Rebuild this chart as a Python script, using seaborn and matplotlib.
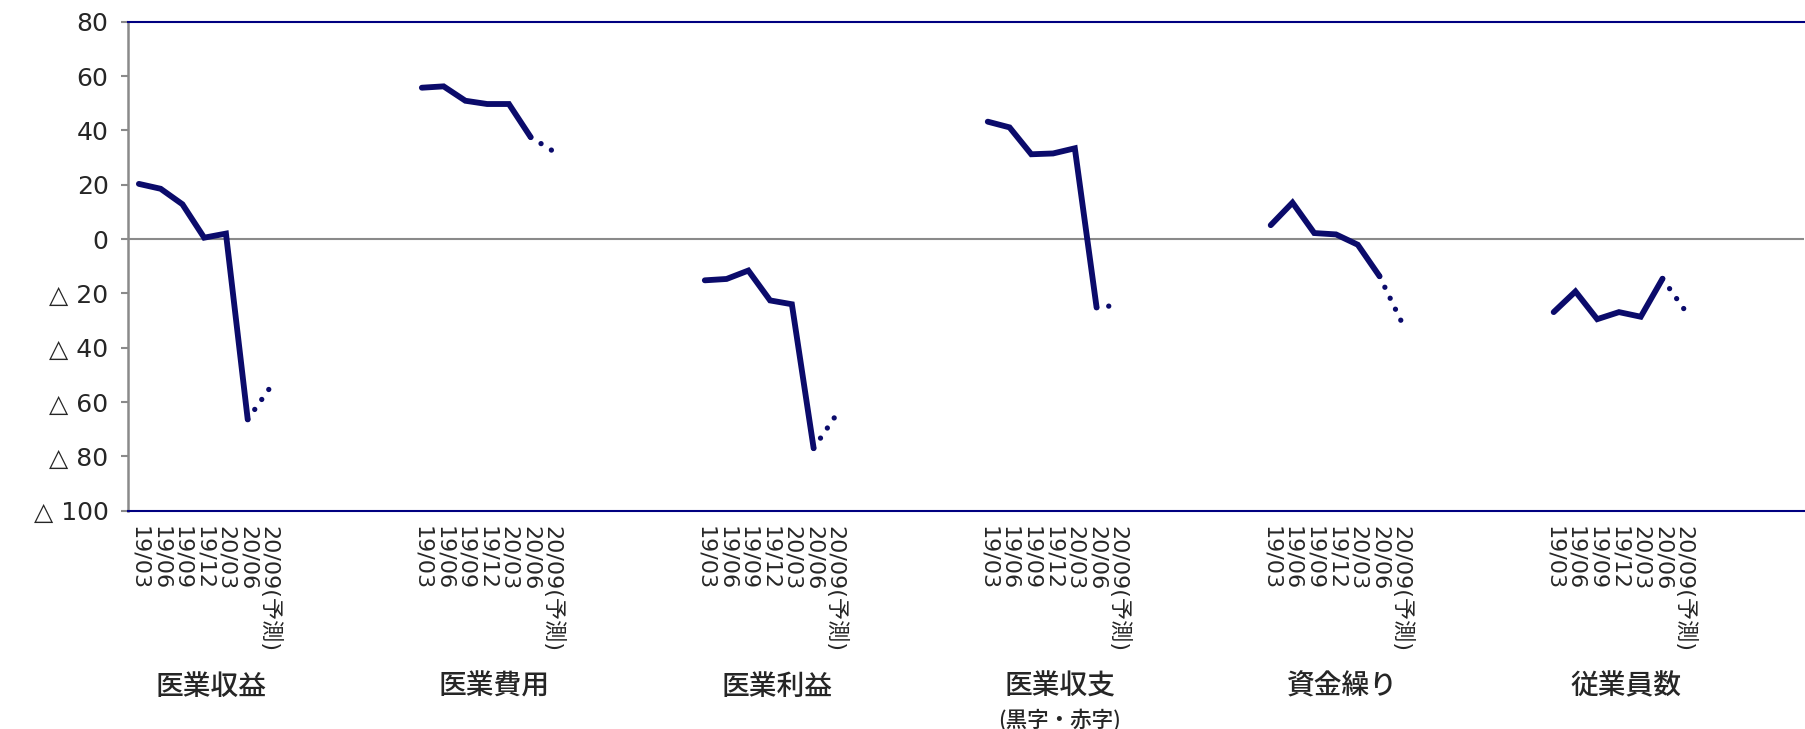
import pandas as pd
import numpy as np
import matplotlib.pyplot as plt
import seaborn as sns

# data (DI values per item, quarterly)
items = ['医業収益', '医業費用', '医業利益', '医業収支', '資金繰り', '従業員数']
item_notes = ['', '', '', '(黒字・赤字)', '', '']
periods = ['19/03', '19/06', '19/09', '19/12', '20/03', '20/06', '20/09(予測)']

revenue = [20.3, 18.5, 12.8, 0.5, 2.0, -66.4, -55.0]
expense = [55.7, 56.2, 50.9, 49.7, 49.7, 37.5, 32.5]
profit = [-15.2, -14.7, -11.6, -22.6, -24.0, -77.0, -65.2]
balance = [43.2, 41.1, 31.2, 31.5, 33.4, -25.2, -24.3]
cashflow = [5.1, 13.4, 2.2, 1.7, -2.1, -13.7, -30.3]
staff = [-26.9, -19.3, -29.5, -26.9, -28.6, -14.6, -25.9]

yticks = [80, 60, 40, 20, 0, -20, -40, -60, -80, -100]

NAVY = '#0b0b6b'
GAP = 13  # slots per group (7 periods + 6 blanks)
NSLOTS = 77


# build a long table: one row per item/period
def build_table():
    series = [revenue, expense, profit, balance, cashflow, staff]
    rows = []
    for g, (name, vals) in enumerate(zip(items, series)):
        for i, (p, v) in enumerate(zip(periods, vals)):
            rows.append({'item': name, 'period': p, 'idx': i,
                         'pos': g * GAP + i, 'value': v})
    return pd.DataFrame(rows)


def draw(df):
    sns.set_style('white')
    plt.rcParams['font.family'] = ['DejaVu Sans', 'Noto Sans CJK JP']

    fig = plt.figure(figsize=(18.06, 7.29), dpi=100)
    ax = fig.add_axes([128 / 1806, (729 - 510.7) / 729, 1676 / 1806, 489 / 729])

    ax.axhline(0, color='#8a8a8a', lw=1.5, zorder=1)

    # actual values: solid line up to 20/06
    solid = df[df['idx'] <= 5]
    sns.lineplot(data=solid, x='pos', y='value', units='item', estimator=None,
                 color=NAVY, lw=4.2, ax=ax, solid_capstyle='round',
                 solid_joinstyle='miter', zorder=3)
    # forecast: dotted from 20/06 to 20/09
    fc = df[df['idx'] >= 5]
    sns.lineplot(data=fc, x='pos', y='value', units='item', estimator=None,
                 color=NAVY, lw=3.8, ax=ax, dashes=False, zorder=3)
    for ln in ax.lines[-len(items):]:
        ln.set_linestyle((0, (0.01, 2.3)))
        ln.set_dash_capstyle('round')

    ax.set_xlim(-0.5, NSLOTS - 0.5)
    ax.set_ylim(-100, 80)

    ax.set_xticks(df['pos'], df['period'], rotation=-90, fontsize=16,
                  va='top', ha='center')
    ax.tick_params(axis='x', length=0, pad=11)

    ylab = [str(v) if v >= 0 else '△ ' + str(-v) for v in yticks]
    ax.set_yticks(yticks, ylab)
    ax.tick_params(axis='y', length=5, width=1.5, color='#8a8a8a',
                   pad=9, labelsize=18, left=True)

    ax.set_xlabel('')
    ax.set_ylabel('')

    for side in ['top', 'bottom']:
        ax.spines[side].set_color('#000080')
        ax.spines[side].set_linewidth(1.5)
    ax.spines['left'].set_color('#8a8a8a')
    ax.spines['left'].set_linewidth(1.8)
    ax.spines['right'].set_visible(False)

    # item names below each group
    tr = ax.get_xaxis_transform()
    for g, (name, note) in enumerate(zip(items, item_notes)):
        xc = g * GAP + 3.3
        ax.text(xc, -0.359, name, transform=tr, ha='center', va='center',
                fontsize=20, fontweight='medium', family=['Noto Sans CJK JP'])
        if note:
            ax.text(xc, -0.428, note, transform=tr, ha='center', va='center',
                    fontsize=15.5, fontweight='medium',
                    family=['Noto Sans CJK JP'])

    fig.savefig('out.png', dpi=100)


if __name__ == "__main__":
    df = build_table()
    draw(df)
